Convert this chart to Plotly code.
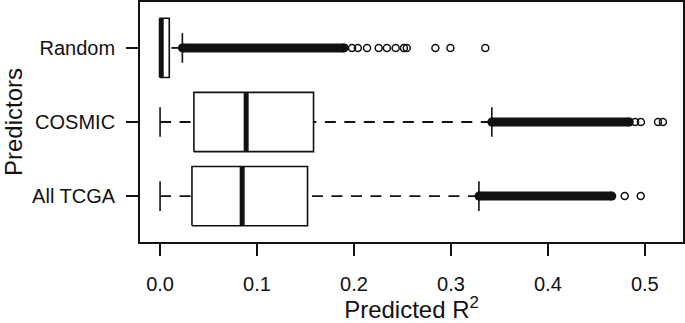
import plotly.graph_objects as go

# ---- data ----
categories = ["All TCGA", "COSMIC", "Random"]
q1 = [0.0329, 0.0349, 0.0000]
median = [0.0847, 0.0888, 0.0012]
q3 = [0.1521, 0.1583, 0.0095]
whisker_low = [0.0, 0.0, 0.0]
whisker_high = [0.3289, 0.3422, 0.0230]
# densely packed outliers form a solid band from the upper whisker up to this value
dense_outlier_end = [0.4660, 0.4840, 0.1900]
# individually visible outliers
outliers_all_tcga = [0.4793, 0.4958]
outliers_cosmic = [0.4900, 0.4960, 0.5136, 0.5187]
outliers_random = [0.1980, 0.2040, 0.2135, 0.2255, 0.2340, 0.2430, 0.2515,
                   0.2545, 0.2840, 0.2995, 0.3355]
sparse_outliers = [outliers_all_tcga, outliers_cosmic, outliers_random]

x_ticks = [0.0, 0.1, 0.2, 0.3, 0.4, 0.5]

# ---- styles ----
BLACK = "#111111"
HALF_BOX = 0.4
HALF_STAPLE = 0.2
FONT = "Liberation Sans, Arial, sans-serif"

fig = go.Figure()

def seg(xs, ys, width, dash=None):
    fig.add_trace(go.Scatter(x=xs, y=ys, mode="lines",
                             line=dict(color=BLACK, width=width, dash=dash),
                             hoverinfo="skip", showlegend=False))

for i, cat in enumerate(categories):
    y = i + 1
    # dense outlier band
    fig.add_trace(go.Scatter(x=[whisker_high[i], dense_outlier_end[i]], y=[y, y],
                             mode="lines+markers",
                             line=dict(color=BLACK, width=9),
                             marker=dict(symbol="circle", size=9, color=BLACK),
                             hoverinfo="skip", showlegend=False))
    # sparse outliers
    fig.add_trace(go.Scatter(x=sparse_outliers[i], y=[y] * len(sparse_outliers[i]),
                             mode="markers",
                             marker=dict(symbol="circle-open", size=7,
                                         color=BLACK, line=dict(width=1.5, color=BLACK)),
                             hoverinfo="skip", showlegend=False))
    # whiskers (drawn from whisker end toward the box)
    seg([whisker_high[i], q3[i]], [y, y], 1.8, dash="11px,8.5px")
    seg([whisker_low[i], q1[i]], [y, y], 1.8, dash="11px,8.5px")
    # staples
    seg([whisker_high[i], whisker_high[i]], [y - HALF_STAPLE, y + HALF_STAPLE], 1.6)
    seg([whisker_low[i], whisker_low[i]], [y - HALF_STAPLE, y + HALF_STAPLE], 1.6)
    # box (white fill)
    fig.add_trace(go.Scatter(x=[q1[i], q3[i], q3[i], q1[i], q1[i]],
                             y=[y - HALF_BOX, y - HALF_BOX, y + HALF_BOX, y + HALF_BOX, y - HALF_BOX],
                             mode="lines", fill="toself", fillcolor="white",
                             line=dict(color=BLACK, width=1.6),
                             hoverinfo="skip", showlegend=False))
    # median
    seg([median[i], median[i]], [y - HALF_BOX, y + HALF_BOX], 5)

fig.update_layout(
    width=685, height=323,
    margin=dict(l=140, r=2, t=2, b=81),
    paper_bgcolor="white", plot_bgcolor="white",
    font=dict(family=FONT, size=20, color=BLACK),
    showlegend=False,
    xaxis=dict(range=[-0.0207, 0.5394], tickvals=x_ticks, tickformat=".1f",
               ticks="outside", ticklen=12, tickwidth=1.6, tickcolor=BLACK,
               showline=True, mirror=True, linecolor=BLACK, linewidth=1.8,
               showgrid=False, zeroline=False, ticklabelstandoff=11, automargin=False,
               title=dict(text="Predicted R<sup>2</sup>", standoff=27)),
    yaxis=dict(range=[0.38, 3.62], tickvals=[1, 2, 3], ticktext=categories,
               ticks="outside", ticklen=12, tickwidth=1.6, tickcolor=BLACK,
               showline=True, mirror=True, linecolor=BLACK, linewidth=1.8,
               showgrid=False, zeroline=False, ticklabelstandoff=7, automargin=False,
               title=dict(text="Predictors", standoff=25)),
)

fig.write_html("out.html", config={"displayModeBar": False},
               post_script="document.body.style.margin='0';document.body.style.overflow='hidden';")
